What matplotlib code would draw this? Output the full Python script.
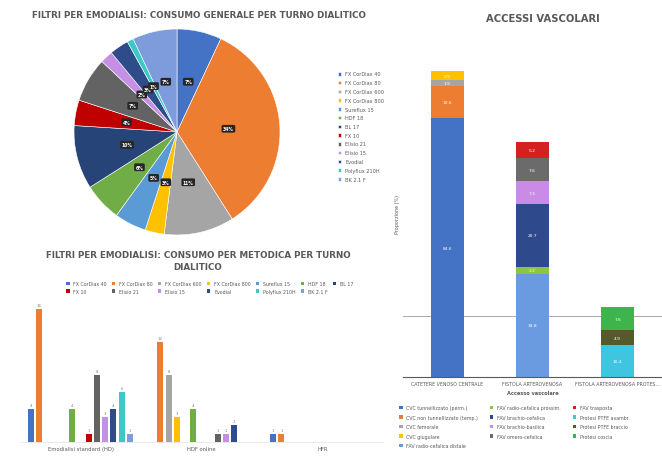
import numpy as np
import matplotlib
matplotlib.use("Agg")
import matplotlib.pyplot as plt

# --- dati ---
filtri = ["FX CorDiax 40", "FX CorDiax 80", "FX CorDiax 600", "FX CorDiax 800",
          "Sureflux 15", "HDF 18", "BL 17", "FX 10", "Elisio 21", "Elisio 15",
          "Evodial", "Polyflux 210H", "BK 2.1 F"]
consumo_pct = [7, 34, 11, 3, 5, 6, 10, 4, 7, 2, 3, 1, 7]

metodiche = ["Emodialisi standard (HD)", "HDF online", "HFR"]
consumo_metodica = [
    [4, 16, 0, 0, 0, 4, 0, 1, 8, 3, 4, 6, 1],   # HD
    [0, 12, 8, 3, 0, 4, 0, 0, 1, 1, 2, 0, 0],   # HDF
    [1, 1, 0, 0, 0, 0, 0, 0, 0, 0, 0, 0, 0],    # HFR
]

accessi = ["CATETERE VENOSO CENTRALE", "FISTOLA ARTEROVENOSA", "FISTOLA ARTEROVENOSA PROTES..."]
tipi_accesso = ["CVC tunnellizzato (perm.)", "CVC non tunnellizzato (temp.)",
                "CVC femorale", "CVC giugulare", "FAV radio-cefalica distale",
                "FAV radio-cefalica prossim.", "FAV brachio-cefalica", "FAV brachio-basilica",
                "FAV omero-cefalica", "FAV trasposta", "Protesi PTFE avambr.",
                "Protesi PTFE braccio", "Protesi coscia"]
# (indice accesso, valore %)
accesso_di = [0, 0, 0, 0, 1, 1, 1, 1, 1, 1, 2, 2, 2]
valori_accesso = [84.6, 10.6, 1.9, 2.9, 33.8, 2.2, 20.7, 7.3, 7.6, 5.2, 10.4, 4.9, 7.6]
soglia = 20

col_filtri = ["#4472C4", "#ED7D31", "#A5A5A5", "#FFC000", "#5B9BD5", "#70AD47", "#264478",
              "#C00000", "#636363", "#C58FE6", "#2E4C8A", "#3CC8C8", "#7E9BDB"]
col_accessi = ["#4472C4", "#ED7D31", "#A5A5A5", "#FFC000", "#6A9BE0", "#8CC63F", "#2F4A8C",
               "#C98BE6", "#6B6B6B", "#D42020", "#3FC5E0", "#555A2C", "#3DB54A"]

W, H = 662, 464
fig = plt.figure(figsize=(W / 100, H / 100), dpi=100)
grigio = "#595959"


def box(l, t, w, h):
    return [l / W, 1 - (t + h) / H, w / W, h / H]


# --- torta ---
fig.text(199 / W, 1 - 16 / H, "FILTRI PER EMODIALISI: CONSUMO GENERALE PER TURNO DIALITICO",
         ha="center", va="center", fontsize=6.3, fontweight="bold", color=grigio)
ax1 = fig.add_axes(box(74, 30, 206, 206))
wedges, _ = ax1.pie(consumo_pct, colors=col_filtri, startangle=90, counterclock=False,
                    wedgeprops=dict(edgecolor="white", linewidth=0.4))
ax1.set_xlim(-1, 1)
ax1.set_ylim(-1, 1)
for w, v in zip(wedges, consumo_pct):
    ang = np.deg2rad((w.theta1 + w.theta2) / 2)
    ax1.text(0.5 * np.cos(ang), 0.5 * np.sin(ang), f"{v}%", ha="center", va="center",
             fontsize=3.3, color="white", fontweight="bold",
             bbox=dict(boxstyle="round,pad=0.3", fc="#262626", ec="none"))
ax1.legend(wedges, filtri, loc="upper left", bbox_to_anchor=(333 / W, 1 - 68 / H),
           bbox_transform=fig.transFigure, frameon=False, fontsize=3.6,
           handlelength=0.7, handleheight=0.7, labelspacing=0.75, labelcolor=grigio)

# --- barre raggruppate ---
fig.text(198 / W, 1 - 256 / H, "FILTRI PER EMODIALISI: CONSUMO PER METODICA PER TURNO",
         ha="center", va="center", fontsize=6.3, fontweight="bold", color=grigio)
fig.text(198 / W, 1 - 268 / H, "DIALITICO", ha="center", va="center",
         fontsize=6.3, fontweight="bold", color=grigio)
ax2 = fig.add_axes(box(20, 300, 363, 143))
n = len(filtri)
slot = 0.068
x = np.arange(len(metodiche))
for i in range(n):
    vals = [consumo_metodica[g][i] for g in range(len(metodiche))]
    pos = x + (i - (n - 1) / 2) * slot
    bars = ax2.bar(pos, vals, width=slot * 0.72, color=col_filtri[i], label=filtri[i])
    for b, v in zip(bars, vals):
        if v > 0:
            ax2.text(b.get_x() + b.get_width() / 2, v + 0.25, str(v), ha="center",
                     va="bottom", fontsize=2.8, color="#808080")
ax2.set_xlim(-0.5, 2.5)
ax2.set_ylim(0, 17.2)
ax2.set_xticks(x)
ax2.set_xticklabels(metodiche, fontsize=3.8, color=grigio)
ax2.tick_params(axis="x", length=0, pad=3)
ax2.set_yticks([])
for s in ["top", "right", "left"]:
    ax2.spines[s].set_visible(False)
ax2.spines["bottom"].set_color("#e0e0e0")
ax2.spines["bottom"].set_linewidth(0.5)
h2, l2 = ax2.get_legend_handles_labels()
order = [0, 7, 1, 8, 2, 9, 3, 10, 4, 11, 5, 12, 6]
ax2.legend([h2[k] for k in order], [l2[k] for k in order], loc="upper left",
           bbox_to_anchor=(62 / W, 1 - 278 / H), bbox_transform=fig.transFigure,
           ncol=7, frameon=False, fontsize=3.4, handlelength=0.7, handleheight=0.7,
           columnspacing=1.1, labelspacing=0.5, labelcolor=grigio)

# --- accessi vascolari ---
fig.text(543 / W, 1 - 19 / H, "ACCESSI VASCOLARI", ha="center", va="center",
         fontsize=7.2, fontweight="bold", color=grigio)
ax3 = fig.add_axes(box(403, 50, 259, 328))
base = np.zeros(len(accessi))
for i, tipo in enumerate(tipi_accesso):
    k = accesso_di[i]
    v = valori_accesso[i]
    ax3.bar(k, v, bottom=base[k], width=0.39, color=col_accessi[i], label=tipo, zorder=2)
    ax3.text(k, base[k] + v / 2, f"{v:.1f}", ha="center", va="center",
             fontsize=3.2, color="white", zorder=3)
    base[k] += v
ax3.axhline(soglia, color="#9a9a9a", linewidth=0.6, zorder=1)
ax3.set_xlim(-0.52, 2.52)
ax3.set_ylim(0, 107.3)
ax3.set_xticks(range(len(accessi)))
ax3.set_xticklabels(accessi, fontsize=3.4, color=grigio)
ax3.tick_params(axis="x", length=0, pad=3)
ax3.set_yticks([])
ax3.set_xlabel("Accesso vascolare", fontsize=3.6, fontweight="bold", color=grigio, labelpad=3)
ax3.set_ylabel("Proporzione (%)", fontsize=3.5, color=grigio, labelpad=2)
for s in ["top", "right", "left"]:
    ax3.spines[s].set_visible(False)
ax3.spines["bottom"].set_color("#595959")
ax3.spines["bottom"].set_linewidth(0.8)
ax3.legend(loc="upper left", bbox_to_anchor=(395 / W, 1 - 402 / H),
           bbox_transform=fig.transFigure, ncol=3, frameon=False, fontsize=3.4,
           handlelength=0.7, handleheight=0.7, columnspacing=2.5, labelspacing=0.95,
           labelcolor=grigio)

plt.savefig("out.png", dpi=100)
